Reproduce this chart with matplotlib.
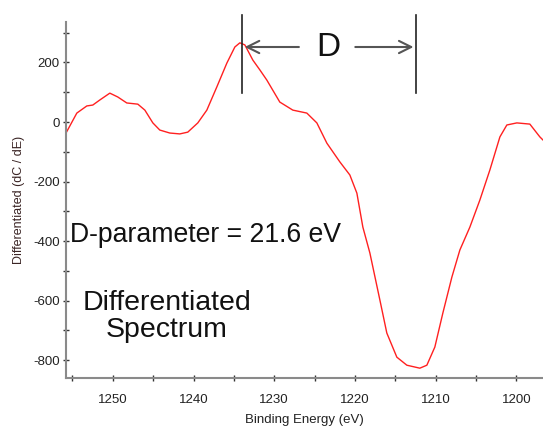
import matplotlib.pyplot as plt
from matplotlib.ticker import MultipleLocator

plt.rcParams['font.family'] = ['Liberation Sans', 'DejaVu Sans']
plt.rcParams['axes.unicode_minus'] = False

# Binding energy (eV) and differentiated counts
energia = [1255.80, 1254.46, 1253.22, 1252.48, 1251.61, 1250.37, 1249.38, 1248.27,
           1246.90, 1246.03, 1245.04, 1244.18, 1242.94, 1241.70, 1240.71, 1239.47,
           1238.35, 1237.11, 1235.87, 1234.88, 1234.26, 1233.64, 1232.65, 1231.78,
           1230.92, 1229.31, 1227.70, 1225.96, 1224.72, 1223.48, 1221.87, 1220.63,
           1219.76, 1219.02, 1218.15, 1216.91, 1216.05, 1214.81, 1213.57, 1211.96,
           1211.09, 1210.10, 1209.11, 1207.99, 1207.00, 1205.76, 1204.52, 1203.28,
           1202.04, 1201.18, 1199.94, 1198.33, 1197.09, 1196.72]
senal = [-37, 30, 54, 57, 74, 97, 84, 64,
         60, 40, -3, -27, -37, -40, -34, -3,
         40, 118, 198, 252, 266, 259, 208, 175,
         141, 67, 40, 30, -3, -71, -134, -178,
         -239, -353, -440, -598, -709, -790, -817, -827,
         -817, -756, -642, -521, -430, -353, -262, -161,
         -50, -10, -3, -7, -50, -60]

# Posiciones del parametro D
pico_sup = 1234.0
pico_inf = 1212.4
d_param = 21.6

fig = plt.figure(figsize=(5.43, 4.30), dpi=100)
ax = fig.add_axes([66 / 543, 52 / 430, 1 - 66 / 543, 356 / 430])

ax.plot(energia, senal, color='#ff2020', lw=1.0, solid_joinstyle='round')

ax.set_xlim(1255.8, 1196.7)
ax.set_ylim(-860, 336)
ax.xaxis.set_major_locator(MultipleLocator(10))
ax.xaxis.set_minor_locator(MultipleLocator(5))
ax.yaxis.set_major_locator(MultipleLocator(200))
ax.yaxis.set_minor_locator(MultipleLocator(100))

for s in ['top', 'right']:
    ax.spines[s].set_visible(False)
for s in ['left', 'bottom']:
    ax.spines[s].set_color('#8a8a8a')
    ax.spines[s].set_linewidth(1.5)
ax.tick_params(which='both', direction='inout', length=5, width=1, color='#333333',
               labelsize=9.5, labelcolor='#222222')
ax.tick_params(axis='y', pad=2)
ax.tick_params(axis='x', pad=9)

ax.set_xlabel('Binding Energy (eV)', fontsize=9.5, color='#222222', labelpad=6)
ax.set_ylabel('Differentiated (dC / dE)', fontsize=9, color='#3a2424', labelpad=6)

# Lineas verticales y flechas
ax.plot([pico_sup, pico_sup], [97, 360], color='#222222', lw=1.2, clip_on=False)
ax.plot([pico_inf, pico_inf], [97, 360], color='#222222', lw=1.2, clip_on=False)
ax.annotate('', xy=(pico_sup, 252), xytext=(1226.6, 252),
            arrowprops=dict(arrowstyle='->', color='#555555', lw=1.5, mutation_scale=22))
ax.annotate('', xy=(pico_inf, 252), xytext=(1220.3, 252),
            arrowprops=dict(arrowstyle='->', color='#555555', lw=1.5, mutation_scale=22))
ax.text(1223.3, 252, 'D', fontsize=24, ha='center', va='center', color='#111111')

ax.text(1255.3, -380, 'D-parameter = %.1f eV' % d_param, fontsize=19.2, ha='left',
        va='center', color='#111111')
ax.text(1243.3, -652, 'Differentiated\nSpectrum', fontsize=20.5, ha='center', va='center',
        color='#111111', linespacing=1.05)

fig.savefig('out.png', dpi=100)
